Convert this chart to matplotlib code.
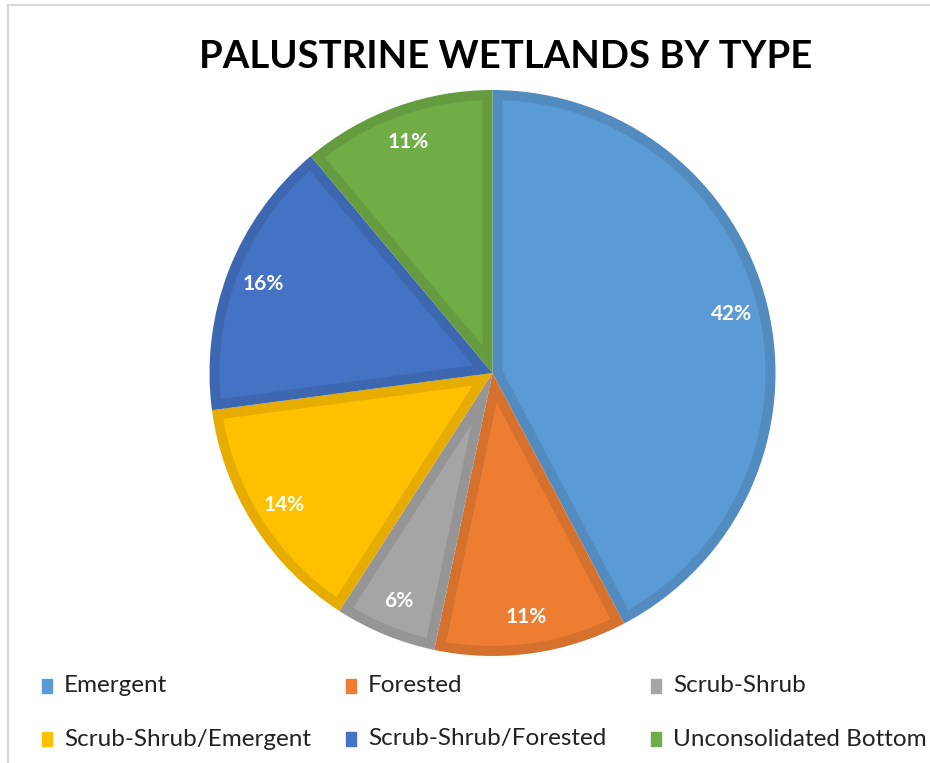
import numpy as np
import matplotlib.pyplot as plt
import matplotlib.colors as mcolors
from matplotlib.patches import Rectangle
from matplotlib.lines import Line2D

# wetland share by type (percent), clockwise from 12 o'clock
types = ['Emergent', 'Forested', 'Scrub-Shrub', 'Scrub-Shrub/Emergent',
         'Scrub-Shrub/Forested', 'Unconsolidated Bottom']
shares = [42.3, 11.0, 5.8, 13.8, 16.0, 11.1]
colors = ['#5B9BD5', '#ED7D31', '#A5A5A5', '#FFC000', '#4472C4', '#70AD47']

W, H = 930, 763
plt.rcParams['font.family'] = ['Lato', 'DejaVu Sans']


def darker(c, f=0.9):
    return tuple(v * f for v in mcolors.to_rgb(c))


def inset_wedge(theta1, theta2, r, d, n=120):
    # region of a sector lying at least d inside its outline
    half = np.radians(theta2 - theta1) / 2
    mid = np.radians(theta1) + half
    apex = d / np.sin(half)
    delta = np.arcsin(d / (r - d))
    t = np.linspace(np.radians(theta1) + delta, np.radians(theta2) - delta, n)
    xs = np.concatenate([[apex * np.cos(mid)], (r - d) * np.cos(t)])
    ys = np.concatenate([[apex * np.sin(mid)], (r - d) * np.sin(t)])
    return xs, ys


fig = plt.figure(figsize=(W / 100, H / 100), dpi=100)
fig.patch.set_facecolor('white')

# light frame on the left and top (the rest of the chart area is cropped)
fig.add_artist(Line2D([8 / W, 8 / W], [0, 1 - 5 / H], color='#D9D9D9', lw=1.6))
fig.add_artist(Line2D([8 / W, 1], [1 - 5 / H, 1 - 5 / H], color='#D9D9D9', lw=1.6))

fig.text(506 / W, 1 - 57 / H, 'PALUSTRINE WETLANDS BY TYPE', ha='center', va='center',
         fontsize=27.5, fontweight='bold', color='black')

cx, cy, r = 492.5, 373, 283
ax = fig.add_axes([(cx - r) / W, (H - cy - r) / H, 2 * r / W, 2 * r / H])
wedges, texts, autotexts = ax.pie(
    shares, colors=[darker(c) for c in colors], startangle=90, counterclock=False,
    autopct='%1.0f%%', pctdistance=0.87, radius=1,
    wedgeprops=dict(linewidth=0),
    textprops=dict(color='white', fontsize=15, fontweight='bold'))

# lighter fill inside a darker rim, as in the office-style pie
rim = 10 / r
for w, c in zip(wedges, colors):
    xs, ys = inset_wedge(w.theta1, w.theta2, 1.0, rim)
    ax.fill(xs, ys, color=c, lw=0, zorder=1.5)

ax.set_xlim(-1, 1)
ax.set_ylim(-1, 1)
ax.set_aspect('equal')
ax.axis('off')

# legend laid out row by row, three per row
col_x = [42, 346, 651]
row_y = [686, 739]
for i, (name, c) in enumerate(zip(types, colors)):
    x = col_x[i % 3]
    y = row_y[i // 3]
    fig.add_artist(Rectangle((x / W, (H - y - 7) / H), 10 / W, 14 / H,
                             transform=fig.transFigure, color=c))
    fig.text((x + 22) / W, (H - y) / H, name, ha='left', va='center',
             fontsize=17.5, color='#222222')

fig.savefig('out.png', dpi=100)
